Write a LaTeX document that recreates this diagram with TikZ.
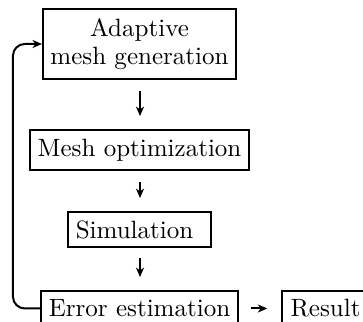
\documentclass[tikz,border=0pt]{standalone}
\usetikzlibrary{arrows.meta}
\begin{document}
\begin{tikzpicture}[x=0.4237pt,y=-0.4237pt,
  font=\fontsize{10.6pt}{12pt}\selectfont,
  box/.style={draw,line width=0.85pt,inner sep=0pt,align=center,minimum height=14.8pt},
  flow/.style={-{Stealth[length=4pt,width=3.4pt,inset=1.2pt]},line width=0.85pt}]
\clip (0,0) rectangle (363,322);
\useasboundingbox (0,0) rectangle (363,322);
\node[box,minimum width=81.8pt,minimum height=29.7pt] (a) at (139.5,44) {Adaptive\\mesh generation};
\node[box,minimum width=92.8pt,minimum height=16.9pt] (m) at (139.5,150) {Mesh optimization};
\node[box,minimum width=60.6pt] (s) at (139.5,229.5) {Simulation\hspace{4.2pt}};
\node[box,minimum width=83.5pt] (e) at (139.5,308.5) {Error estimation};
\node[box,minimum width=36.9pt] (r) at (325.5,308.5) {Result};
\draw[flow,shorten <=4.6pt,shorten >=5.5pt] (a.south -| 140,0) -- (m.north -| 140,0);
\draw[flow,shorten <=4.6pt,shorten >=5.5pt] (m.south -| 140,0) -- (s.north -| 140,0);
\draw[flow,shorten <=4.4pt,shorten >=5.5pt] (s.south -| 140,0) -- (e.north -| 140,0);
\draw[flow,shorten <=5pt,shorten >=5.8pt] (e.east) -- (r.west);
\draw[flow,rounded corners=5pt] (e.west) -- ++(-27,0) |- (a.west);
\end{tikzpicture}
\end{document}
